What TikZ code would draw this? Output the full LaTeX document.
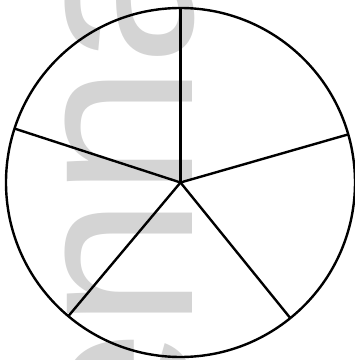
\documentclass[tikz,border=0pt]{standalone}
\usepackage{fontspec}
\newfontfamily\markfont{Liberation Sans}

\begin{document}
\begin{tikzpicture}[x=1pt,y=1pt,line width=2.4pt,
  wheel/.style={circle,draw,minimum size=349pt,inner sep=0pt,outer sep=0pt},
  stamp/.style={black!17,inner sep=0pt,rotate=90,anchor=base west,
    font=\markfont\fontsize{237}{237}\selectfont}]
\clip (0,0) rectangle (355,360);
\node[stamp] (mark) at (193,-102.6) {enna};
\node[wheel] (pie) at (180.5,177.5) {};
\coordinate (o) at (pie.center);
\foreach \a in {90,16,-51,-130,162}
  \draw (o) -- (pie.\a);
\end{tikzpicture}
\end{document}
